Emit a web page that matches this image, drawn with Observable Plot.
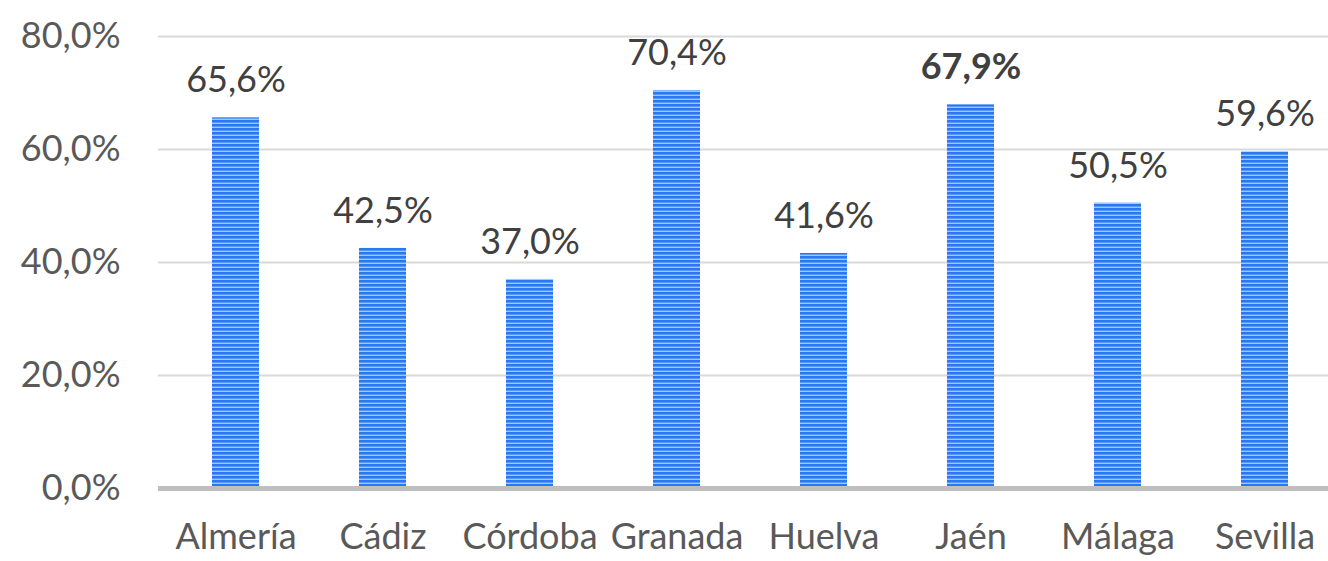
<!DOCTYPE html>
<html><head><meta charset="utf-8">
<script src="https://cdn.jsdelivr.net/npm/d3@7"></script>
<script src="https://cdn.jsdelivr.net/npm/@observablehq/plot@0.6"></script>
<style>body{margin:0;background:#fff}</style>
</head><body><div id="chart"></div>
<script>
const provinces = ["Almería","Cádiz","Córdoba","Granada","Huelva","Jaén","Málaga","Sevilla"];
const values = [65.6, 42.5, 37.0, 70.4, 41.6, 67.9, 50.5, 59.6];
const yTicks = [0, 20, 40, 60, 80];
const highlight = "Jaén";
const data = provinces.map((p, i) => ({province: p, value: values[i]}));
const fmt = v => v.toFixed(1).replace(".", ",") + "%";
const font = "Lato, 'Open Sans', sans-serif";

const chart = Plot.plot({
  width: 1328, height: 561,
  marginLeft: 158, marginRight: 0, marginTop: 36, marginBottom: 73,
  style: {fontFamily: font, background: "#fff", overflow: "visible"},
  x: {domain: provinces, range: [159, 1341], paddingInner: 0.68, paddingOuter: 0.34, label: null},
  y: {domain: [0, 80], label: null},
  marks: [
    Plot.gridY(yTicks, {stroke: "#d9d9d9", strokeWidth: 2, strokeOpacity: 1}),
    Plot.barY(data, {x: "province", y: "value", fill: "url(#stripes)"}),
    Plot.ruleY([0], {stroke: "#bfbfbf", strokeWidth: 5}),
    Plot.text(data.filter(d => d.province !== highlight), {x: "province", y: "value", text: d => fmt(d.value), dy: -37,
      fontSize: 36, fill: "#404040"}),
    Plot.text(data.filter(d => d.province === highlight), {x: "province", y: "value", text: d => fmt(d.value), dy: -37,
      fontSize: 36, fill: "#404040", fontWeight: "bold"}),
    Plot.axisX({fontSize: 36, tickSize: 0, tickPadding: 35, fill: "#595959", label: null}),
    Plot.axisY(yTicks, {fontSize: 36, tickSize: 0, tickPadding: 38, fill: "#595959", label: null, tickFormat: fmt})
  ]
});
const ns = "http://www.w3.org/2000/svg";
const defs = document.createElementNS(ns, "defs");
defs.innerHTML = `<pattern id="stripes" patternUnits="userSpaceOnUse" width="8" height="4">
  <rect width="8" height="4" fill="#2a78f0"/>
  <rect y="2.6" width="8" height="1.4" fill="#9cc8ff"/>
</pattern>`;
chart.insertBefore(defs, chart.firstChild);
document.getElementById("chart").appendChild(chart);
</script></body></html>
